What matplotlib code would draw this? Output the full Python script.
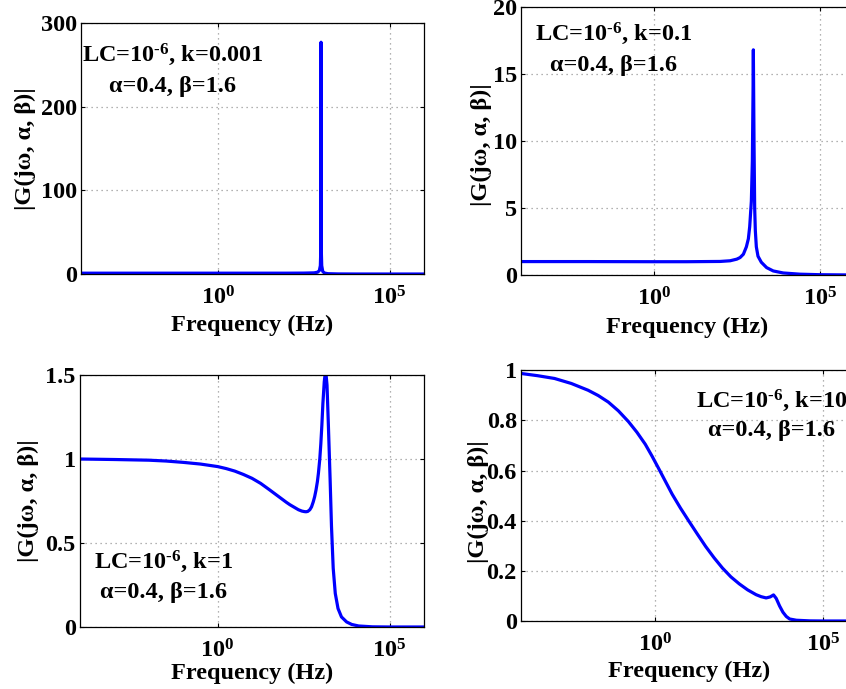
import numpy as np
import matplotlib
matplotlib.use("Agg")
from matplotlib import pyplot as plt

# |G(jw, alpha, beta)|, frequency given as log10(Hz)
exp_k0001 = [-4, -2, 0, 1, 2, 2.5, 2.8, 2.9, 2.95, 2.98, 2.99, 3.0, 3.01, 3.02, 3.05, 3.1, 3.2, 3.5, 4, 5, 6]
mag_k0001 = [1.0, 1.0, 1.0, 1.0, 1.01, 1.1, 1.4, 2.2, 4, 10, 25, 277, 25, 10, 3, 1.2, 0.4, 0.1, 0.02, 0, 0]

exp_k01 = [-4, -2, 0, 1, 2, 2.3, 2.5, 2.6, 2.7, 2.79, 2.85, 2.89, 2.94, 2.97, 2.99, 3.0,
           3.02, 3.04, 3.06, 3.09, 3.14, 3.24, 3.4, 3.6, 3.9, 4.4, 5, 6]
mag_k01 = [1.0, 1.0, 0.99, 0.99, 1.01, 1.06, 1.18, 1.3, 1.55, 2.1, 2.7, 3.6, 5.5, 8.5, 13.5, 16.8,
           10, 5, 3.3, 2.1, 1.4, 0.95, 0.55, 0.3, 0.15, 0.06, 0.02, 0.0]

exp_k1 = [-4, -3, -2, -1.5, -1, -0.5, 0, 0.25, 0.5, 0.75, 1, 1.25, 1.5, 1.75, 2, 2.1, 2.25,
          2.35, 2.45, 2.52, 2.57, 2.62, 2.68, 2.73, 2.78, 2.82, 2.86, 2.9, 2.93, 2.97, 3.0,
          3.03, 3.06, 3.1, 3.14, 3.18, 3.22, 3.27, 3.31, 3.36, 3.42, 3.5, 3.6, 3.75, 3.9, 4.1,
          4.5, 5, 6]
mag_k1 = [1.0, 0.997, 0.993, 0.988, 0.98, 0.97, 0.955, 0.943, 0.928, 0.908, 0.885, 0.855, 0.818,
          0.78, 0.742, 0.728, 0.71, 0.698, 0.69, 0.687, 0.686, 0.688, 0.698, 0.715, 0.745, 0.775,
          0.815, 0.865, 0.915, 1.0, 1.09, 1.2, 1.33, 1.46, 1.53, 1.44, 1.2, 0.88, 0.6, 0.35, 0.2,
          0.11, 0.06, 0.03, 0.015, 0.006, 0.001, 0, 0]

exp_k10 = [-4, -3.5, -3, -2.5, -2, -1.7, -1.4, -1.1, -0.8, -0.55, -0.3, -0.1, 0.1, 0.3, 0.5, 0.75,
           1.0, 1.25, 1.5, 1.75, 2.0, 2.25, 2.5, 2.75, 3.0, 3.15, 3.3, 3.42, 3.52, 3.6, 3.7, 3.8,
           3.9, 4.0, 4.2, 4.6, 5, 6]
mag_k10 = [0.987, 0.978, 0.967, 0.947, 0.92, 0.899, 0.873, 0.838, 0.795, 0.753, 0.705, 0.658, 0.608,
           0.557, 0.506, 0.45, 0.398, 0.347, 0.297, 0.252, 0.211, 0.176, 0.148, 0.124, 0.105,
           0.097, 0.092, 0.096, 0.104, 0.09, 0.06, 0.035, 0.018, 0.008, 0.003, 0.0005, 0, 0]

k_values = ['0.001', '0.1', '1', '10']
yticks = [[0, 100, 200, 300], [0, 5, 10, 15, 20], [0, 0.5, 1, 1.5], [0, 0.2, 0.4, 0.6, 0.8, 1]]
yticklabels = [['0', '100', '200', '300'], ['0', '5', '10', '15', '20'],
               ['0', '0.5', '1', '1.5'], ['0', '0.2', '0.4', '0.6', '0.8', '1']]

plt.rcParams['font.family'] = ['Liberation Serif', 'DejaVu Serif']
plt.rcParams['font.weight'] = 'bold'
plt.rcParams['mathtext.fontset'] = 'custom'
plt.rcParams['mathtext.rm'] = 'Liberation Serif:bold'
plt.rcParams['mathtext.it'] = 'Liberation Serif:bold'
plt.rcParams['mathtext.bf'] = 'Liberation Serif:bold'
fs = 17.5

fig = plt.figure(figsize=(8.46, 6.89), dpi=100)

# axes boxes (left, bottom, width, height) - right column runs past the figure edge
boxes = [[0.0957, 0.6023, 0.4054, 0.3643],
         [0.6158, 0.6009, 0.3924, 0.3890],
         [0.0946, 0.0900, 0.4066, 0.3657],
         [0.6158, 0.0987, 0.3970, 0.3640]]
curves = [(exp_k0001, mag_k0001), (exp_k01, mag_k01), (exp_k1, mag_k1), (exp_k10, mag_k10)]
text_pos = [(0.268, 0.846, 0.726), (0.279, 0.874, 0.762), (0.244, 0.233, 0.114), (0.746, 0.851, 0.738)]
ylab_pos = [(-0.163, 0.5), (-0.12, 0.485), (-0.151, 0.5), (-0.128, 0.474)]
xlab_y = [-0.227, -0.215, -0.208, -0.225]

for i in range(4):
    ax = fig.add_axes(boxes[i])
    ex, mag = curves[i]
    ax.plot(np.power(10.0, ex), mag, color='#0000ff', linewidth=2.3)
    ax.set_xscale('log')
    ax.set_xlim(1e-4, 1e6)
    ax.set_ylim(yticks[i][0], yticks[i][-1])
    ax.set_xticks([1, 1e5], [r'$10^{0}$', r'$10^{5}$'])
    ax.minorticks_off()
    ax.set_yticks(yticks[i], yticklabels[i])
    ax.tick_params(direction='in', top=True, right=True, length=3, width=0.8, labelsize=fs)
    ax.tick_params(axis='x', pad=9)
    ax.tick_params(axis='y', pad=3)
    ax.grid(True, linestyle=(0, (1, 3)), color='#999999', linewidth=0.9)
    for sp in ax.spines.values():
        sp.set_linewidth(0.9)
    ax.set_xlabel('Frequency (Hz)', fontsize=fs, fontweight='bold')
    ax.xaxis.label.set_va('baseline')
    ax.xaxis.set_label_coords(0.5, xlab_y[i])
    ax.set_ylabel('|G(jω, α, β)|', fontsize=fs, fontweight='bold')
    ax.yaxis.label.set_va('center')
    ax.yaxis.set_label_coords(*ylab_pos[i])
    tx, ty1, ty2 = text_pos[i]
    ax.text(tx, ty1, 'LC=10$^{\u2010 6}$, k=' + k_values[i], transform=ax.transAxes,
            ha='center', va='baseline', fontsize=fs, fontweight='bold')
    ax.text(tx, ty2, 'α=0.4, β=1.6', transform=ax.transAxes,
            ha='center', va='baseline', fontsize=fs, fontweight='bold')

fig.savefig('out.png', dpi=100)
